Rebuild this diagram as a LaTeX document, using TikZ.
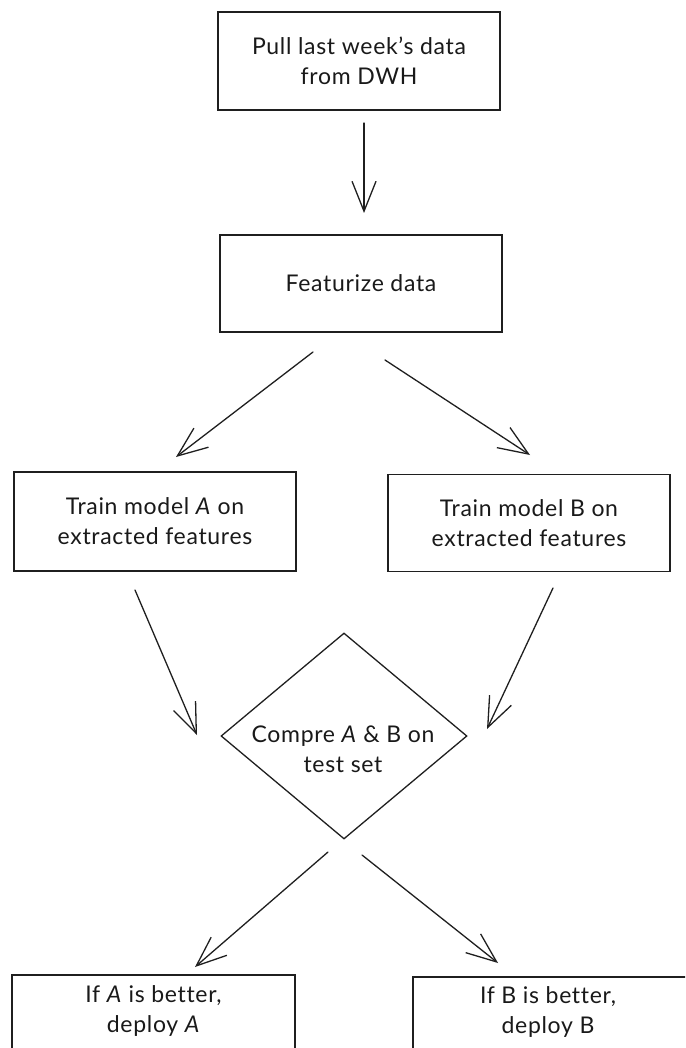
\documentclass[tikz,border=0pt]{standalone}
\usepackage{fontspec}
\setmainfont{Lato}[LetterSpace=3,Ligatures=NoCommon]
\usetikzlibrary{arrows.meta,shapes.geometric}
\begin{document}
\begin{tikzpicture}[x=1pt,y=-1pt,
  ink/.style={draw=black!88, line width=1.3pt},
  txt/.style={align=center, font=\fontsize{23}{30}\selectfont, text=black!90},
  box/.style={ink, rectangle, inner sep=0pt, txt},
  flow/.style={ink, line cap=round, -{Straight Barb[length=30pt,width=24pt,line width=1.3pt]}}]
\useasboundingbox (0,0) rectangle (685,1048);
\clip (0,0) rectangle (685,1048);

% process boxes
\node[box, minimum width=282pt, minimum height=98pt] (pull) at (359,61)
  {Pull last week's data\\from DWH};
\node[box, minimum width=282pt, minimum height=97pt] (feat) at (361,283.5)
  {Featurize data};
\node[box, minimum width=282pt, minimum height=99pt] (trainA) at (155,521.5)
  {Train model \textit{A} on\\extracted features};
\node[box, minimum width=282pt, minimum height=97pt] (trainB) at (529,523)
  {Train model B on\\extracted features};

% decision
\node[ink, diamond, minimum width=246pt, minimum height=206pt, inner sep=0pt] (cmp) at (344,736) {};
\node[txt] (cmptxt) at (343,749) {Compre \textit{A} \& B on\\test set};

% outcome boxes, running past the lower edge
\node[box, minimum width=283pt, minimum height=130pt] (depA) at (153.5,1040) {};
\node[txt] (depAtxt) at (153.5,1011) {If \textit{A} is better,\\deploy \textit{A}};
\node[box, minimum width=290pt, minimum height=130pt] (depB) at (558,1042) {};
\node[txt] (depBtxt) at (548,1012) {If B is better,\\deploy B};

% connector ends
\coordinate (p1) at (364,123);  \coordinate (p2) at (364,213);
\coordinate (f1) at (313,352);  \coordinate (f2) at (176,457);
\coordinate (f3) at (385,360);  \coordinate (f4) at (530,455);
\coordinate (a1) at (135,590);  \coordinate (a2) at (197,735);
\coordinate (b1) at (553,588);  \coordinate (b2) at (487,729);
\coordinate (c1) at (328,852);  \coordinate (c2) at (195,967);
\coordinate (c3) at (362,855);  \coordinate (c4) at (498,963);

\draw[flow] (p1) -- (p2);
\draw[flow] (f1) -- (f2);
\draw[flow] (f3) -- (f4);
\draw[flow] (a1) -- (a2);
\draw[flow] (b1) -- (b2);
\draw[flow] (c1) -- (c2);
\draw[flow] (c3) -- (c4);
\end{tikzpicture}
\end{document}
